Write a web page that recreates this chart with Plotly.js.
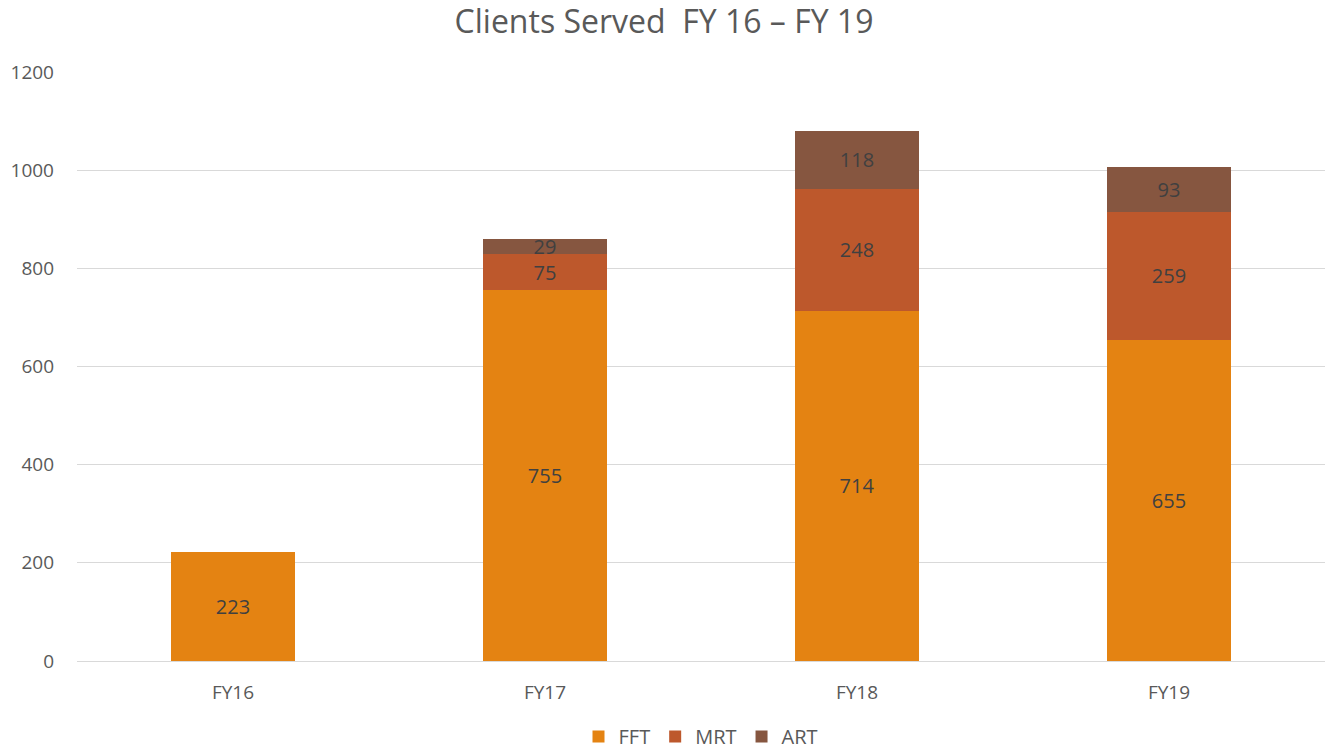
<!DOCTYPE html>
<html>
<head>
<meta charset="utf-8">
<script src="https://cdn.plot.ly/plotly-3.0.1.min.js"></script>
<style>html,body{margin:0;padding:0;background:#fff;}#chart{width:1328px;height:756px;}</style>
</head>
<body>
<div id="chart"></div>
<script>
const categories = ["FY16", "FY17", "FY18", "FY19"];
const fft = [223, 755, 714, 655];
const mrt = [null, 75, 248, 259];
const art = [null, 29, 118, 93];
const seriesNames = ["FFT", "MRT", "ART"];
const colors = ["#E48312", "#BD582C", "#865640"];

const FONT = "Open Sans, Noto Sans, sans-serif";
function mk(name, vals, color) {
  return {
    type: "bar", name: name, x: categories, y: vals,
    marker: {color: color},
    text: vals.map(v => v == null ? "" : String(v)),
    textposition: "inside", insidetextanchor: "middle", textangle: 0,
    constraintext: "none", cliponaxis: false,
    textfont: {family: FONT, size: 20, color: "#404040"},
    hoverinfo: "x+y+name"
  };
}
const data = [mk(seriesNames[0], fft, colors[0]), mk(seriesNames[1], mrt, colors[1]), mk(seriesNames[2], art, colors[2])];
const layout = {
  width: 1328, height: 756,
  margin: {l: 77, r: 3, t: 72, b: 95},
  paper_bgcolor: "#fff", plot_bgcolor: "#fff",
  barmode: "stack", bargap: 0.6,
  title: {text: "Clients Served  FY 16 – FY 19", x: 0.5, xanchor: "center", yref: "container", y: 0.971, yanchor: "middle",
          font: {family: FONT, size: 32, color: "#595959"}},
  xaxis: {showgrid: false, showline: true, linecolor: "#D9D9D9", linewidth: 1, ticks: "",
          ticklabelstandoff: 14, automargin: false,
          tickfont: {family: FONT, size: 19, color: "#595959"}, fixedrange: true},
  yaxis: {range: [0, 1200], dtick: 200, showgrid: true, gridcolor: "#D9D9D9", gridwidth: 1,
          zeroline: false, showline: false, ticks: "", ticklabelstandoff: 22, automargin: false,
          tickfont: {family: FONT, size: 19, color: "#595959"}},
  legend: {orientation: "h", x: 0.5, xanchor: "center", yref: "container", y: 0.0, yanchor: "bottom",
           font: {family: FONT, size: 20, color: "#595959"}, traceorder: "normal", itemwidth: 30},
  showlegend: true
};
Plotly.newPlot("chart", data, layout, {displayModeBar: false, staticPlot: true});
</script>
</body>
</html>
